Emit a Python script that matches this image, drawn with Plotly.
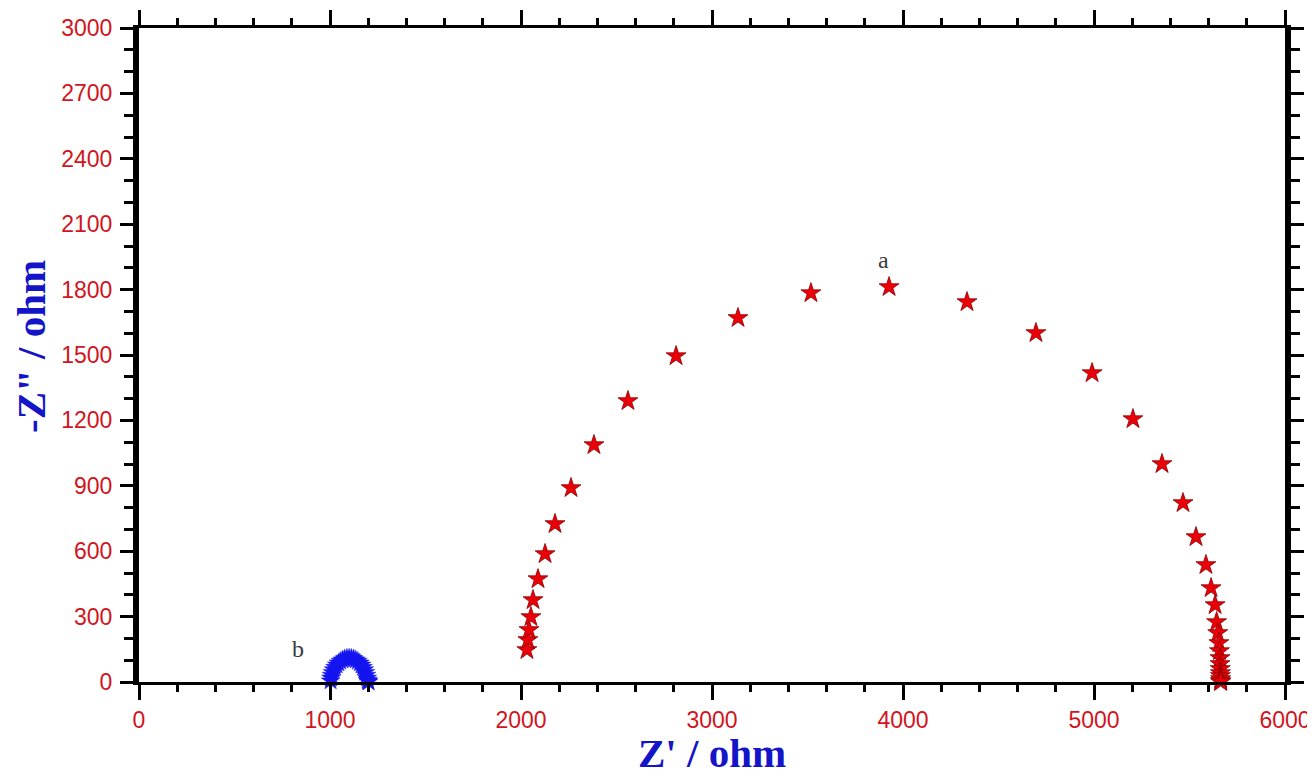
import plotly.graph_objects as go

# Series a (red stars)
a_x = [2031, 2036, 2042, 2052, 2063, 2089, 2126, 2178, 2262, 2382, 2560, 2812,
       3136, 3518, 3927, 4335, 4696, 4990, 5204, 5356, 5466, 5534, 5586, 5613,
       5634, 5642, 5648, 5654, 5657, 5660, 5660, 5661, 5662, 5662, 5663, 5663, 5663]
a_y = [147, 193, 239, 298, 376, 472, 587, 725, 890, 1087, 1289, 1495,
       1670, 1784, 1812, 1743, 1601, 1417, 1206, 1000, 821, 665, 537, 431,
       353, 275, 225, 179, 142, 110, 83, 60, 41, 28, 14, 5, 0]

# Series b (blue stars)
b_x = [1003, 1005, 1008, 1013, 1019, 1026, 1035, 1044, 1054, 1065, 1076, 1088, 1100,
       1112, 1124, 1135, 1146, 1156, 1165, 1173, 1180, 1186, 1191, 1195, 1198, 1200, 1202]
b_y = [5, 18, 31, 44, 56, 67, 78, 87, 95, 101, 106, 109, 110,
       109, 106, 101, 95, 87, 78, 67, 56, 44, 31, 18, 8, 3, 0]

x_ticks = [0, 1000, 2000, 3000, 4000, 5000, 6000]
y_ticks = [0, 300, 600, 900, 1200, 1500, 1800, 2100, 2400, 2700, 3000]

x_title = "<b>Z' / ohm</b>"
y_title = "<b>-Z\" / ohm</b>"

TICK_RED = "#d2141e"
TITLE_BLUE = "#1414c8"

fig = go.Figure()
fig.add_trace(go.Scatter(
    x=b_x, y=b_y, mode="markers", name="b", cliponaxis=False,
    marker=dict(symbol="star", size=14, color="#1515f0",
                line=dict(color="#1515f0", width=0.5)),
))
fig.add_trace(go.Scatter(
    x=a_x, y=a_y, mode="markers", name="a", cliponaxis=False,
    marker=dict(symbol="star", size=15, color="#ea0008",
                line=dict(color="#8a0000", width=0.8)),
))

label_font = dict(family="Liberation Serif, Times New Roman, serif", size=24, color="#3a3a3a")
fig.add_annotation(x=3900, y=1935, text="a", showarrow=False, xref="x", yref="y", font=label_font)
fig.add_annotation(x=830, y=150, text="b", showarrow=False, xref="x", yref="y", font=label_font)

title_font = dict(family="Liberation Serif, Times New Roman, serif", size=41, color=TITLE_BLUE)
fig.add_annotation(x=0.5, y=0, xref="paper", yref="paper", text=x_title, showarrow=False,
                   xanchor="center", yanchor="middle", yshift=-71, font=title_font)
fig.add_annotation(x=0, y=0.5, xref="paper", yref="paper", text=y_title, showarrow=False,
                   textangle=-90, xanchor="center", yanchor="middle", xshift=-108, yshift=8,
                   font=title_font)

tick_font = dict(family="Liberation Sans, Arial, sans-serif", size=23, color=TICK_RED)

# page body has an 8px default margin, so the figure is sized/offset to compensate
fig.update_layout(
    width=1307, height=766,
    margin=dict(l=131, r=30, t=20, b=92, autoexpand=False),
    paper_bgcolor="white", plot_bgcolor="white",
    showlegend=False,
    xaxis=dict(
        range=[0, 6000], tickvals=x_ticks, ticktext=[str(v) for v in x_ticks],
        showgrid=False, zeroline=False, automargin=False,
        showline=True, linecolor="black", linewidth=3, mirror="ticks",
        ticks="outside", ticklen=15, tickwidth=3, tickcolor="black",
        minor=dict(dtick=200, ticks="outside", ticklen=7, tickwidth=3, tickcolor="black", showgrid=False),
        tickfont=tick_font,
    ),
    yaxis=dict(
        range=[0, 3000], tickvals=y_ticks, ticktext=[str(v) for v in y_ticks],
        showgrid=False, zeroline=False, automargin=False,
        showline=True, linecolor="black", linewidth=6, mirror="ticks",
        ticks="outside", ticklen=13, tickwidth=3, tickcolor="black",
        minor=dict(dtick=100, ticks="outside", ticklen=9, tickwidth=3, tickcolor="black", showgrid=False),
        tickfont=tick_font, ticklabelstandoff=3,
    ),
)

fig.write_html("out.html")
